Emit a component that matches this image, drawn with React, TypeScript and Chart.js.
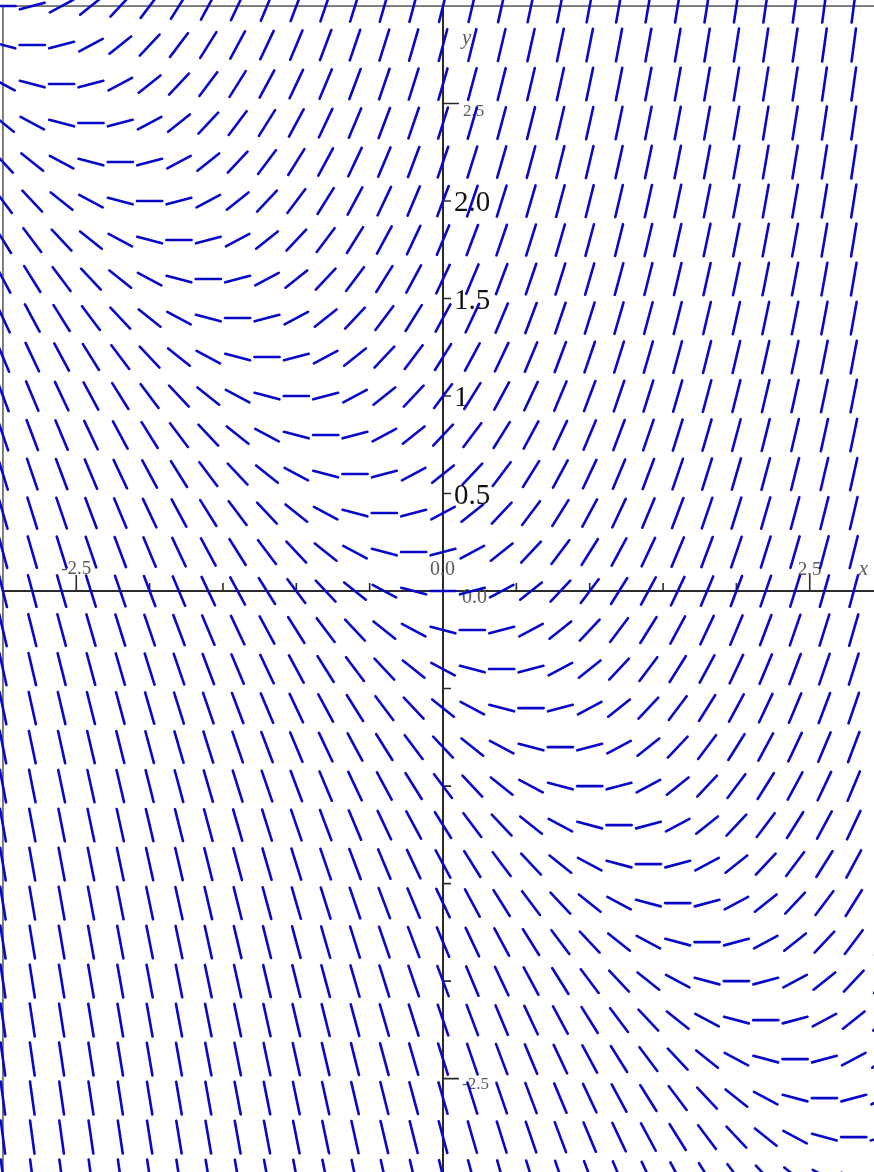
import React, { useEffect, useRef } from "react";
import { Chart, registerables } from "chart.js";

Chart.register(...registerables);

// Direction field of the differential equation dy/dx = x + y
const xGrid = [-3, -2.8, -2.6, -2.4, -2.2, -2, -1.8, -1.6, -1.4, -1.2, -1, -0.8, -0.6, -0.4, -0.2, 0, 0.2, 0.4, 0.6, 0.8, 1, 1.2, 1.4, 1.6, 1.8, 2, 2.2, 2.4, 2.6, 2.8, 3];
const yGrid = [-3, -2.8, -2.6, -2.4, -2.2, -2, -1.8, -1.6, -1.4, -1.2, -1, -0.8, -0.6, -0.4, -0.2, 0, 0.2, 0.4, 0.6, 0.8, 1, 1.2, 1.4, 1.6, 1.8, 2, 2.2, 2.4, 2.6, 2.8, 3];
const slope = (x: number, y: number) => x + y;
const segmentLength = 0.172;

const xTicks = [-2.5, -2, -1.5, -1, -0.5, 0.5, 1, 1.5, 2, 2.5];
const yTicks = [-2.5, -2, -1.5, -1, -0.5, 0.5, 1, 1.5, 2, 2.5];
const longTicks = [-2.5, 2.5];
const xTickLabels = ["-2.5", "2.5"];
const yTickLabelsGray = ["2.5", "-2.5"];
const yTickLabelsBlack = ["2.0", "1.5", "1", "0.5"];
const yTickValuesBlack = [2, 1.5, 1, 0.5];

function buildSegments() {
  const pts: { x: number; y: number }[] = [];
  for (const y of yGrid) {
    for (const x of xGrid) {
      const m = slope(x, y);
      const h = segmentLength / 2 / Math.sqrt(1 + m * m);
      pts.push({ x: x - h, y: y - m * h });
      pts.push({ x: x + h, y: y + m * h });
      pts.push({ x: x, y: NaN });
    }
  }
  return pts;
}

const axesPlugin = {
  id: "mapleAxes",
  beforeDatasetsDraw(chart: any) {
    const { ctx } = chart;
    const xs = chart.scales.x;
    const ys = chart.scales.y;
    const px = (v: number) => xs.getPixelForValue(v);
    const py = (v: number) => ys.getPixelForValue(v);
    ctx.save();
    // frame
    ctx.strokeStyle = "#555555";
    ctx.lineWidth = 1.5;
    ctx.strokeRect(px(-3), py(3), px(3) - px(-3), py(-3) - py(3));
    // axes
    ctx.strokeStyle = "#2a2a2a";
    ctx.lineWidth = 2;
    ctx.beginPath();
    ctx.moveTo(px(-3), py(0));
    ctx.lineTo(px(3), py(0));
    ctx.moveTo(px(0), py(-3));
    ctx.lineTo(px(0), py(3));
    ctx.stroke();
    // ticks
    ctx.lineWidth = 1.6;
    ctx.beginPath();
    for (const v of xTicks) {
      const len = longTicks.includes(v) ? 16 : 8;
      ctx.moveTo(px(v), py(0));
      ctx.lineTo(px(v), py(0) - len);
    }
    for (const v of yTicks) {
      const len = longTicks.includes(v) ? 16 : 8;
      ctx.moveTo(px(0), py(v));
      ctx.lineTo(px(0) + len, py(v));
    }
    ctx.stroke();

    // labels
    ctx.textBaseline = "alphabetic";
    ctx.textAlign = "left";
    const serif = "'Liberation Serif', 'DejaVu Serif', serif";
    ctx.fillStyle = "#5a5a5a";
    ctx.font = `19px ${serif}`;
    ctx.fillText(xTickLabels[0], px(-2.5) - 15, py(0) - 17);
    ctx.fillText(xTickLabels[1], px(2.5) - 12, py(0) - 16);
    ctx.font = `17px ${serif}`;
    ctx.fillText(yTickLabelsGray[0], px(0) + 20, py(2.5) + 12);
    ctx.fillText(yTickLabelsGray[1], px(0) + 19, py(-2.5) + 10);
    ctx.font = `20px ${serif}`;
    ctx.fillText("0.0", px(0) - 13, py(0) - 16);
    ctx.fillText("0.0", px(0) + 19, py(0) + 12);
    ctx.font = `italic 21px ${serif}`;
    ctx.fillText("x", px(2.8) + 5, py(0) - 16);
    ctx.fillText("y", px(0) + 19, py(3) + 38);
    ctx.fillStyle = "#111111";
    ctx.font = `29px ${serif}`;
    yTickValuesBlack.forEach((v, i) => {
      ctx.fillText(yTickLabelsBlack[i], px(0) + 11, py(v) + 10);
    });
    ctx.restore();
  },
};

export default function App() {
  const ref = useRef<HTMLCanvasElement | null>(null);
  useEffect(() => {
    if (!ref.current) return;
    const chart = new Chart(ref.current, {
      type: "scatter",
      data: {
        datasets: [
          {
            data: buildSegments(),
            showLine: true,
            spanGaps: false,
            pointRadius: 0,
            borderColor: "rgb(8,8,200)",
            borderWidth: 2.6,
            borderCapStyle: "round",
          } as any,
        ],
      },
      options: {
        animation: false,
        responsive: false,
        devicePixelRatio: 1,
        events: [],
        layout: { padding: 0 },
        plugins: { legend: { display: false }, tooltip: { enabled: false } },
        scales: {
          x: { type: "linear", min: -3.02, max: 2.938, display: false },
          y: { type: "linear", min: -2.979, max: 3.031, display: false },
        },
      },
      plugins: [axesPlugin],
    });
    return () => chart.destroy();
  }, []);
  return (
    <div style={{ position: "fixed", left: 0, top: 0, width: 874, height: 1172, overflow: "hidden", background: "#fff" }}>
      <canvas ref={ref} width={874} height={1172} style={{ display: "block", width: 874, height: 1172 }} />
    </div>
  );
}
